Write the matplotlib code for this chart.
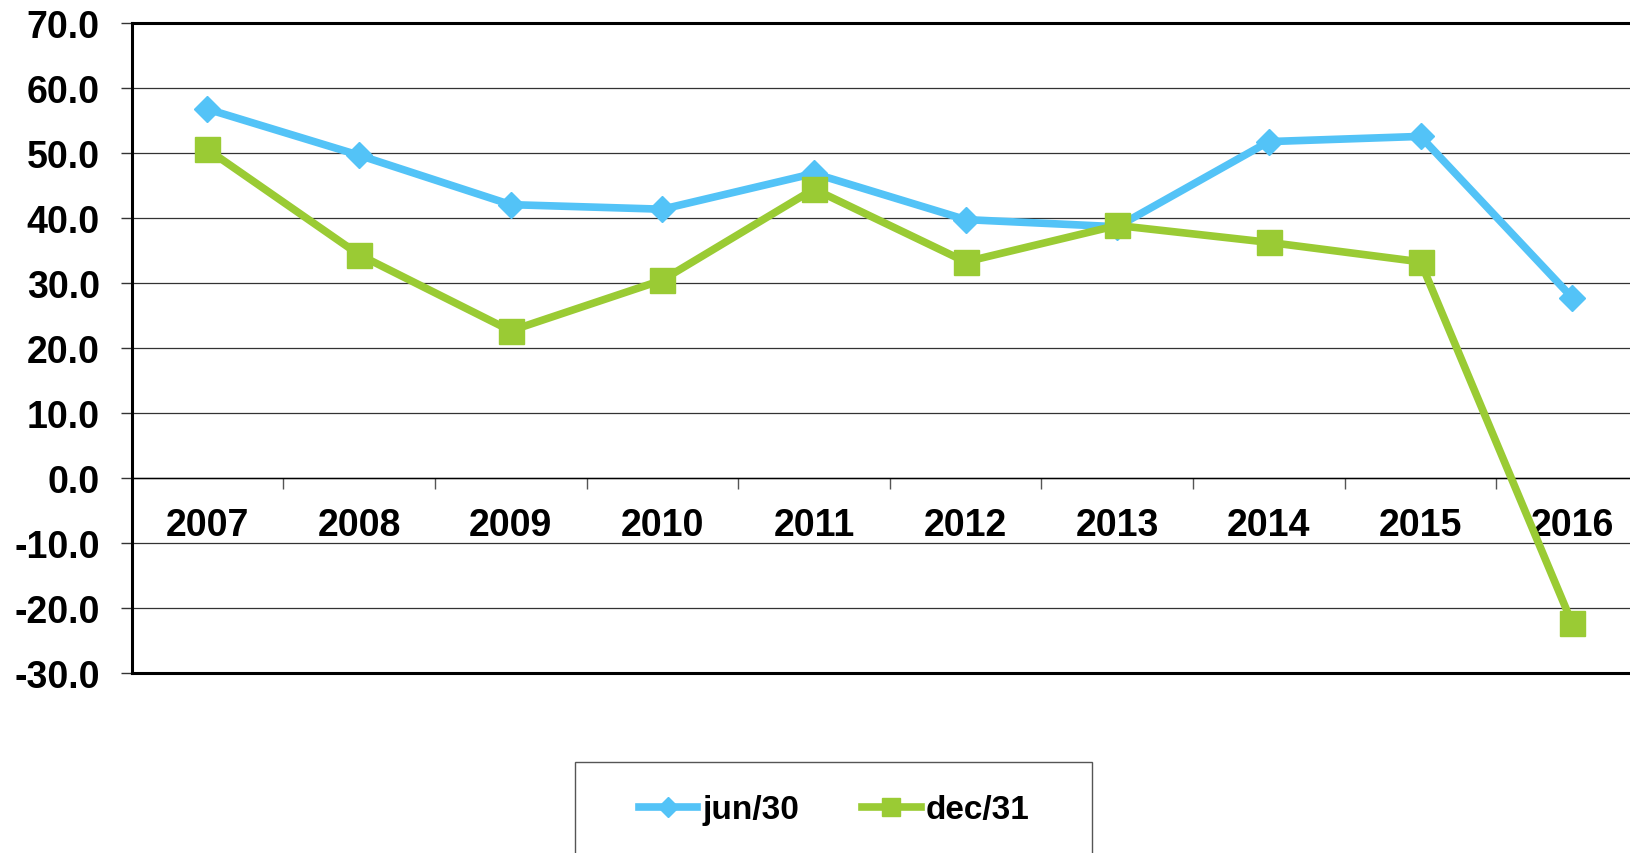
import matplotlib.pyplot as plt
import numpy as np
from matplotlib.patches import Rectangle

plt.rcParams['font.family'] = ['Liberation Sans', 'DejaVu Sans']
plt.rcParams['font.weight'] = 'bold'

years = ['2007', '2008', '2009', '2010', '2011', '2012', '2013', '2014', '2015', '2016']
jun30 = [56.8, 49.7, 42.1, 41.4, 46.9, 39.8, 38.7, 51.8, 52.6, 27.8]
dec31 = [50.6, 34.4, 22.7, 30.5, 44.5, 33.3, 38.9, 36.3, 33.3, -22.3]
yticks = [-30, -20, -10, 0, 10, 20, 30, 40, 50, 60, 70]

blue = '#53C3F7'
green = '#9ACB34'

fig = plt.figure(figsize=(16.31, 8.54), dpi=100)
ax = fig.add_axes([131.6 / 1631, 179.7 / 854, (1648 - 131.6) / 1631, 650 / 854])

x = np.arange(len(years))
ax.plot(x, jun30, color=blue, lw=5.5, marker='D', ms=13, mec=blue, label='jun/30', zorder=4)
ax.plot(x, dec31, color=green, lw=5.5, marker='s', ms=18, mec=green, label='dec/31', zorder=5)

ax.set_xlim(-0.5, len(years) - 0.5)
ax.set_ylim(-30, 70)

# horizontal grid
ax.set_yticks(yticks)
ax.set_yticklabels([f'{v:.1f}' for v in yticks])
ax.yaxis.grid(True, color='#333333', lw=0.9)
ax.set_axisbelow(True)
ax.tick_params(axis='y', direction='out', length=8, width=1, pad=15, labelsize=27, color='#333333')

# category axis sits on zero
ax.spines['bottom'].set_position(('data', 0))
ax.spines['bottom'].set_linewidth(1)
ax.spines['right'].set_visible(False)
ax.spines['left'].set_linewidth(2.2)
ax.spines['top'].set_linewidth(2.2)
ax.axhline(-30, color='black', lw=2.2, clip_on=False, zorder=6)

ax.set_xticks(x)
ax.set_xticklabels(years)
ax.set_xticks(x[:-1] + 0.5, minor=True)
ax.tick_params(axis='x', which='major', length=0, pad=21, labelsize=27)
ax.tick_params(axis='x', which='minor', direction='out', length=8, width=1, color='#555555')

# legend box (cut off at bottom)
fig.patches.append(Rectangle((575 / 1631, -0.1), (1092 - 575) / 1631, 0.1 + (854 - 763) / 854,
                             transform=fig.transFigure, fill=False, ec='#555555', lw=1))
fig.legend(loc='center', bbox_to_anchor=(834 / 1631, 1 - 811 / 854), ncol=2, frameon=False,
           fontsize=24, handlelength=1.75, handletextpad=0.15, columnspacing=1.9, markerscale=0.75)

fig.savefig('out.png', dpi=100)
